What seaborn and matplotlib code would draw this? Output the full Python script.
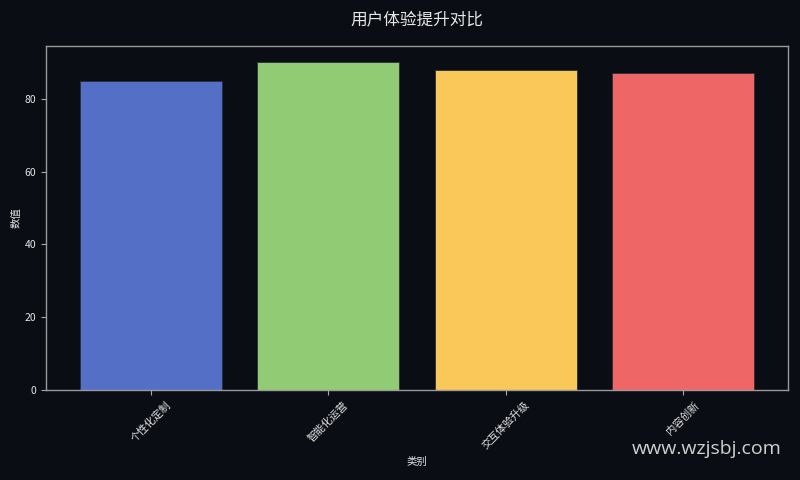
import matplotlib
matplotlib.use("Agg")
import matplotlib.pyplot as plt
import seaborn as sns
import pandas as pd

categories = ["个性化定制", "智能化运营", "交互体验升级", "内容创新"]
values = [85, 90, 88, 87]
colors = ["#5470c6", "#91cc75", "#fac858", "#ee6666"]

bg = "#0b0d14"
sns.set_theme(style="dark")
plt.rcParams['font.family'] = ['Noto Sans CJK SC', 'DejaVu Sans']
plt.rcParams['axes.unicode_minus'] = False

df = pd.DataFrame({"类别": categories, "数值": values})

fig, ax = plt.subplots(figsize=(8, 4.8), dpi=100)
fig.patch.set_facecolor(bg)
ax.set_facecolor(bg)

sns.barplot(data=df, x="类别", y="数值", hue="类别", palette=colors,
            legend=False, ax=ax, width=0.8, edgecolor="#2a2f3a", linewidth=0.6,
            saturation=1)
ax.set_xlim(-0.59, 3.59)
ax.set_ylim(0, 94.5)

txt = "#e6e6e6"
ax.set_title("用户体验提升对比", color=txt, fontsize=12, pad=16)
ax.set_xlabel("类别", color=txt, fontsize=7.5)
ax.set_ylabel("数值", color=txt, fontsize=7.5, labelpad=2)
ax.tick_params(axis="both", colors=txt, labelsize=7.5, length=3.5,
               width=0.8, bottom=True, left=True)
for lab in ax.get_xticklabels():
    lab.set_rotation(45)
ax.tick_params(axis="x", color="#aaaaaa")
ax.tick_params(axis="y", color="#aaaaaa")
for s in ax.spines.values():
    s.set_visible(True)
    s.set_color("#9a9a9a")
    s.set_linewidth(1.0)
ax.grid(False)

fig.text(0.977, 0.065, "www.wzjsbj.com", color="#e6e6e6", alpha=0.9,
         fontsize=14, ha="right", va="center", family=["Open Sans", "DejaVu Sans"])

fig.subplots_adjust(left=0.0575, right=0.985, top=0.904, bottom=0.1875)
fig.savefig("out.png", dpi=100, facecolor=bg)
